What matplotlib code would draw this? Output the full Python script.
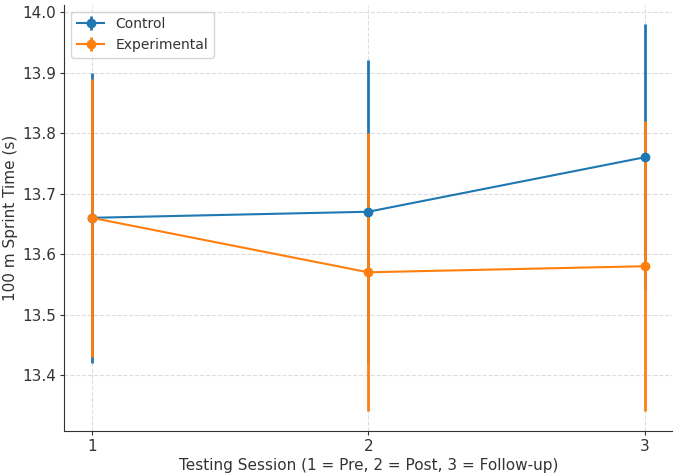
import numpy as np
import matplotlib
matplotlib.use('Agg')
import matplotlib.pyplot as plt

# sessions and group means / error
sessions = [1, 2, 3]
control_mean = [13.66, 13.67, 13.76]
control_err = [0.24, 0.25, 0.22]
exp_mean = [13.66, 13.57, 13.58]
exp_err = [0.23, 0.23, 0.24]

plt.rcParams['font.family'] = 'DejaVu Sans'
plt.rcParams['font.size'] = 11

fig, ax = plt.subplots(figsize=(6.75, 4.74), dpi=100)
ax.errorbar(sessions, control_mean, yerr=control_err, fmt='-o', color='#1f77b4',
            label='Control', lw=1.5, ms=6, elinewidth=2)
ax.errorbar(sessions, exp_mean, yerr=exp_err, fmt='-o', color='#ff7f0e',
            label='Experimental', lw=1.5, ms=6, elinewidth=2)

ax.set_xticks(sessions)
ax.set_xlabel('Testing Session (1 = Pre, 2 = Post, 3 = Follow-up)', color='#333333', labelpad=3)
ax.set_ylabel('100 m Sprint Time (s)', color='#333333', labelpad=3)
ax.grid(True, linestyle='--', color='#dddddd', lw=0.8)
ax.set_axisbelow(True)
for s in ['top', 'right']:
    ax.spines[s].set_visible(False)
for s in ['left', 'bottom']:
    ax.spines[s].set_color('#333333')
ax.tick_params(colors='#333333', labelsize=11, length=3, pad=2.5)
ax.legend(loc='upper left', fontsize=10, labelcolor='#333333')

fig.subplots_adjust(left=0.095, right=0.996, bottom=0.091, top=0.99)
fig.savefig('out.png')
